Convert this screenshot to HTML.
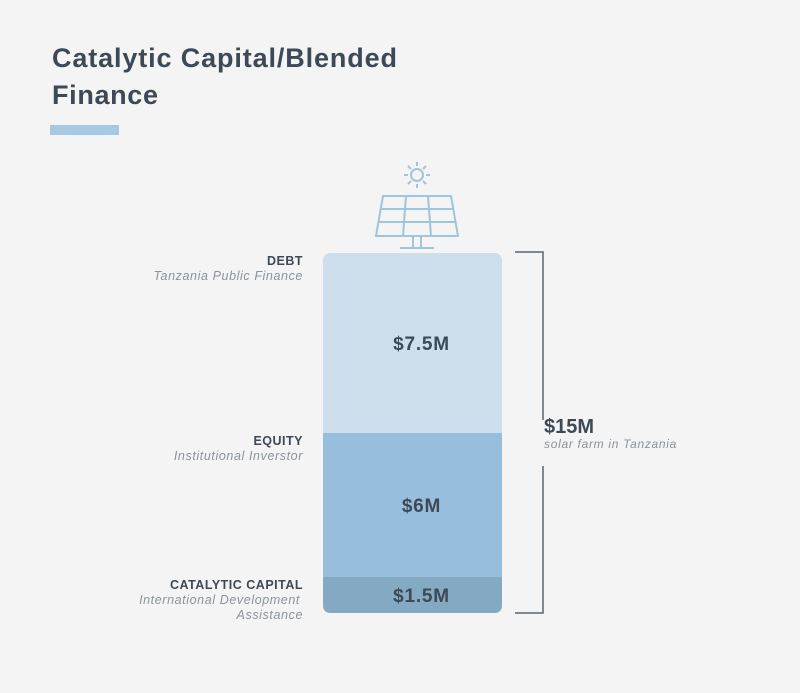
<!DOCTYPE html>
<html><head><meta charset="utf-8"><style>
body{margin:0;background:#f4f4f4;}
svg{display:block;font-family:"Liberation Sans",sans-serif;}
</style></head><body>
<svg id="c" width="800" height="693" viewBox="0 0 800 693">
<rect width="800" height="693" fill="#f4f4f4"/>
<text x="52" y="67" font-size="27" font-weight="bold" fill="#3d4957" textLength="345" lengthAdjust="spacing">Catalytic Capital/Blended</text>
<text x="52" y="104" font-size="27" font-weight="bold" fill="#3d4957" textLength="106" lengthAdjust="spacing">Finance</text>
<rect x="50" y="125" width="69" height="10" fill="#a7c8e2"/>
<g stroke="#9fc4e0" stroke-width="2" fill="none">
<circle cx="417" cy="175" r="6"/>
<path d="M417 162v4M417 184v4M404 175h4M426 175h4M408 166l3 3M423 181l3 3M426 166l-3 3M411 181l-3 3"/>
<path d="M383 196h68l7 40h-82z"/>
<path d="M406 196l-3 40M428 196l3 40M380 209h74M378 222h78"/>
<path d="M413 236v12M421 236v12M400 248h34"/>
</g>
<g id="bars"></g>
<g stroke="#5a6470" stroke-width="1.5" fill="none">
<path d="M515 252h28v168M543 466v147h-28"/>
</g>
<text x="544" y="433" font-size="20" font-weight="bold" fill="#3d4957">$15M</text>
<text x="544" y="448" font-size="12" font-style="italic" fill="#8a929a" letter-spacing="0.7">solar farm in Tanzania</text>
</svg>
<script>
const categories=["DEBT","EQUITY","CATALYTIC CAPITAL"];
const subtitles=[["Tanzania Public Finance"],["Institutional Inverstor"],["International Development","Assistance"]];
const values=[7.5,6,1.5];
const valueLabels=["$7.5M","$6M","$1.5M"];
const colors=["#cddfec","#97bfdd","#84a9c3"];
const ns="http://www.w3.org/2000/svg";
const g=document.getElementById("bars");
const x0=323,w=179,bottom=613,pxPerM=24;
const y=v=>bottom-v*pxPerM;
const total=values.reduce((a,b)=>a+b,0);
const defs=document.createElementNS(ns,"defs");
const cp=document.createElementNS(ns,"clipPath");cp.id="cl";
const cr=document.createElementNS(ns,"rect");
cr.setAttribute("x",x0);cr.setAttribute("y",y(total));cr.setAttribute("width",w);cr.setAttribute("height",total*pxPerM);cr.setAttribute("rx",7);
cp.appendChild(cr);defs.appendChild(cp);g.appendChild(defs);
let cum=total;
values.forEach((v,i)=>{
  const top=y(cum),bot=y(cum-v);
  const r=document.createElementNS(ns,"rect");
  r.setAttribute("x",x0);r.setAttribute("y",top);r.setAttribute("width",w);r.setAttribute("height",bot-top);
  r.setAttribute("fill",colors[i]);r.setAttribute("clip-path","url(#cl)");
  
  
  g.appendChild(r);
  const t=document.createElementNS(ns,"text");
  t.setAttribute("x",x0+w/2+9);t.setAttribute("y",(top+bot)/2+7);t.setAttribute("text-anchor","middle");
  t.setAttribute("font-size","19");t.setAttribute("font-weight","bold");t.setAttribute("fill","#3d4957");
  t.setAttribute("letter-spacing","0.8");
  t.textContent=valueLabels[i];
  
  
  g.appendChild(t);
  const c=document.createElementNS(ns,"text");
  c.setAttribute("x",303);c.setAttribute("y",top+12);c.setAttribute("text-anchor","end");
  c.setAttribute("font-size","12.5");c.setAttribute("font-weight","bold");c.setAttribute("fill","#3d4957");
  c.setAttribute("letter-spacing","0.5");
  c.textContent=categories[i];
  
  
  g.appendChild(c);
  subtitles[i].forEach((s,j)=>{
    const st=document.createElementNS(ns,"text");
    st.setAttribute("x",j===0&&subtitles[i].length>1?300:303);st.setAttribute("y",top+27+j*15);st.setAttribute("text-anchor","end");
    st.setAttribute("font-size","12.5");st.setAttribute("font-style","italic");st.setAttribute("fill","#8a929a");
    st.setAttribute("letter-spacing","0.6");
    st.textContent=s;
    
    
    g.appendChild(st);
  });
  cum-=v;
});
</script>
</body></html>
